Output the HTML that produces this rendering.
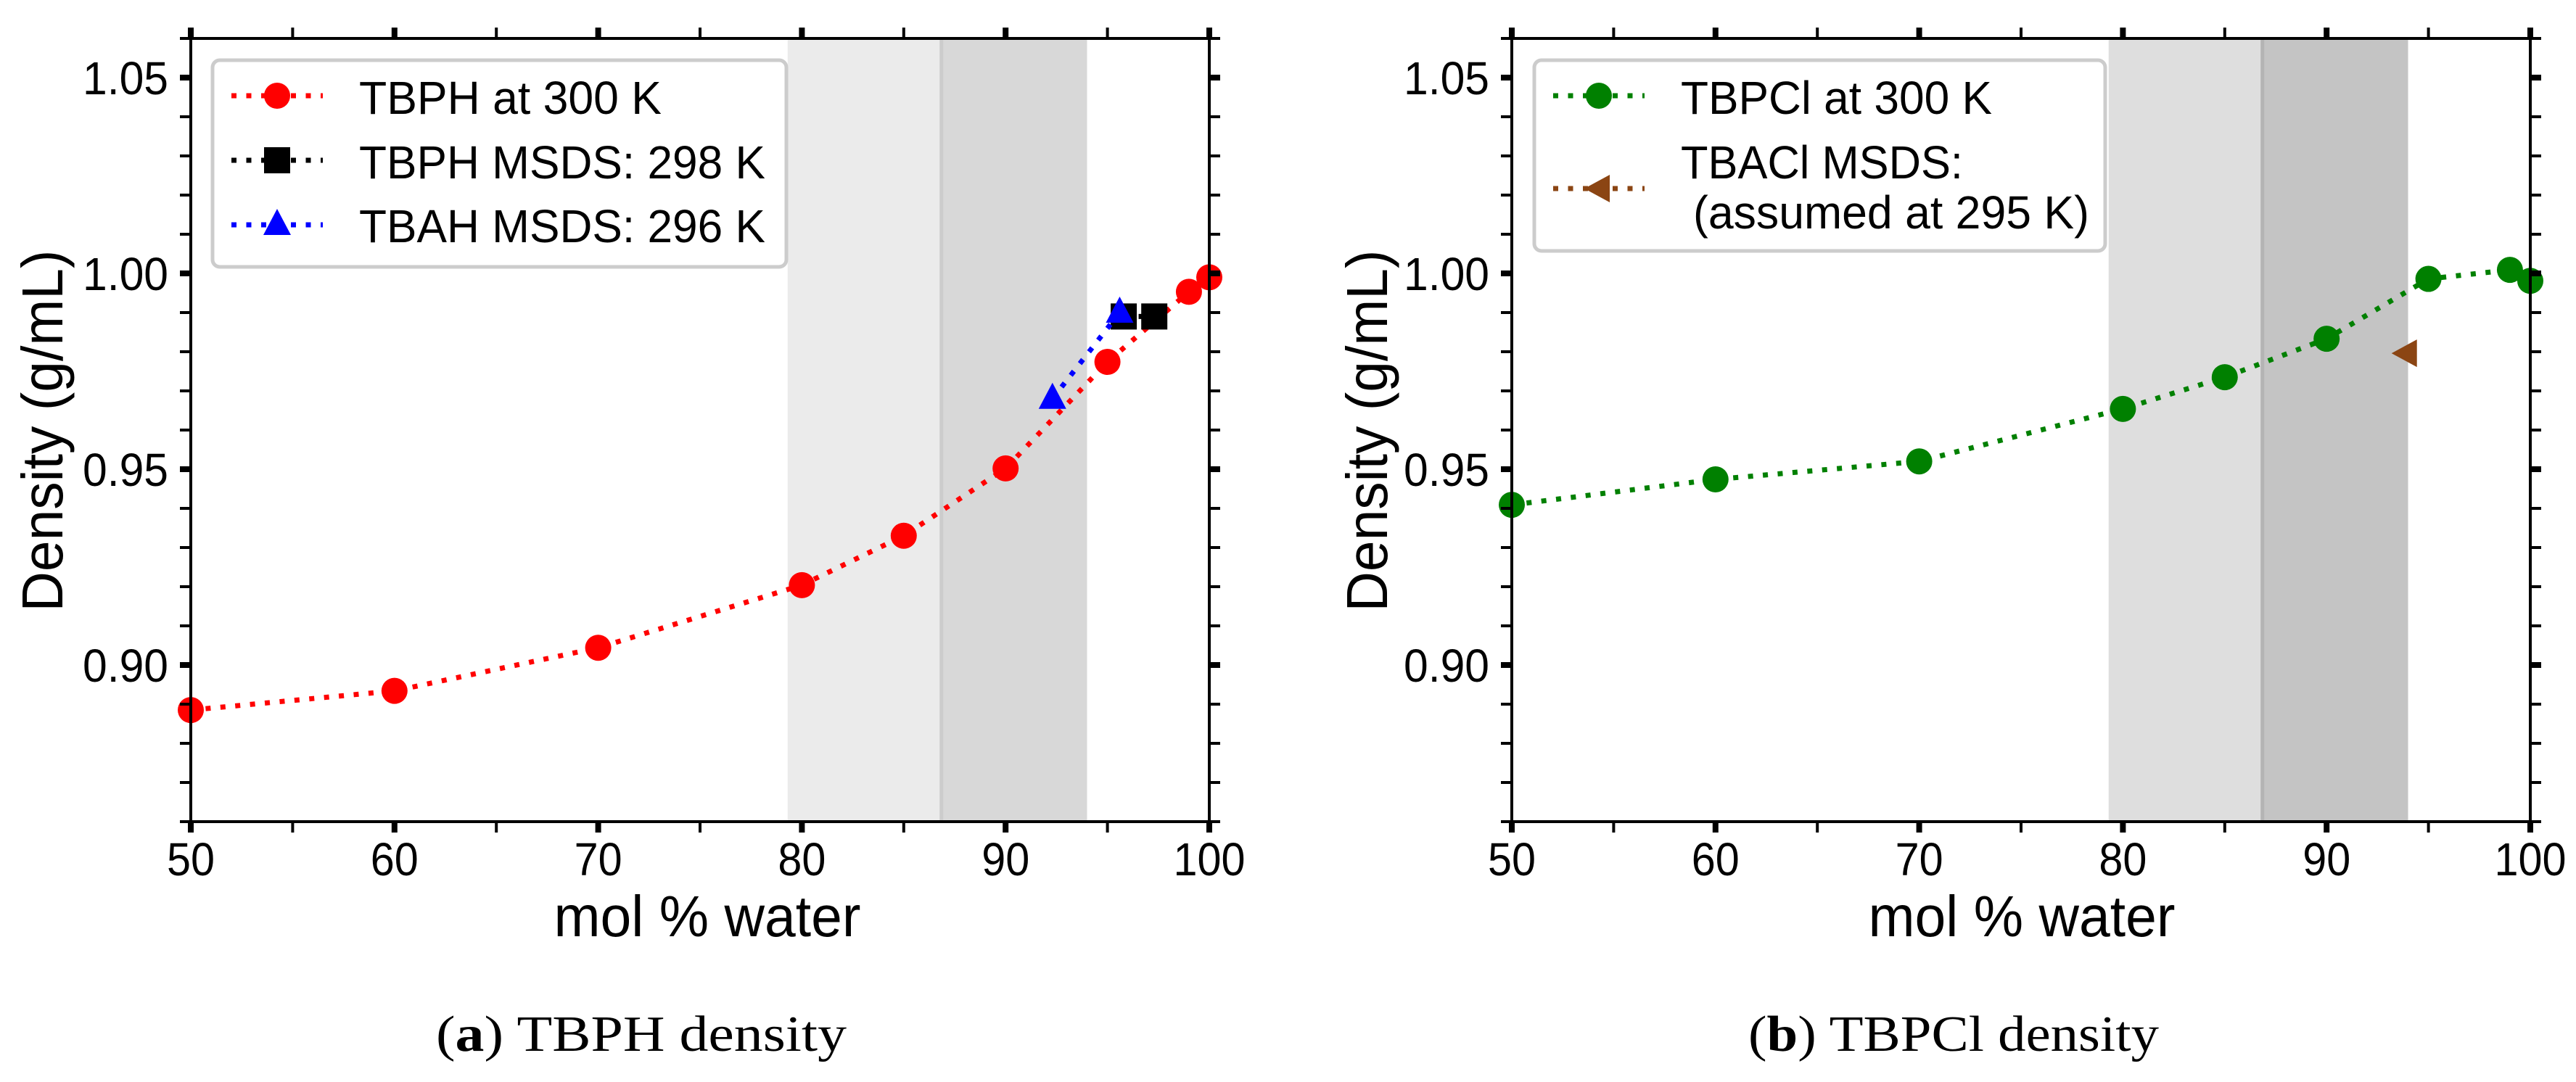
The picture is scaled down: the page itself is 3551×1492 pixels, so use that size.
<!DOCTYPE html>
<html><head><meta charset="utf-8"><style>
html,body{margin:0;padding:0;background:#fff;}
svg{display:block;}
text{font-family:"Liberation Sans",sans-serif;fill:#000;}
</style></head><body>
<svg id="fig" width="3551" height="1492" viewBox="0 0 3551 1492" xmlns="http://www.w3.org/2000/svg"></svg>
<script>
// ---- data ----
const xTicks = [50,60,70,80,90,100];
const yTicks = [0.90,0.95,1.00,1.05];
const yTickLabels = ["0.90","0.95","1.00","1.05"];
const tbphX = [50,60,70,80,85,90,95,99,100];
const tbphY = [0.8885,0.8934,0.9044,0.9204,0.933,0.9502,0.9774,0.9953,0.999];
const tbphMsdsX = [95.8,97.3];
const tbphMsdsY = [0.989,0.989];
const tbahMsdsX = [92.3,95.6];
const tbahMsdsY = [0.968,0.990];
const tbpclX = [50,60,70,80,85,90,95,99,100];
const tbpclY = [0.9409,0.9474,0.952,0.9654,0.9735,0.9833,0.9986,1.0009,0.9981];
const tbaclX = [93.9];
const tbaclY = [0.9796];
const bandEdges = [79.3,86.85,94.0];

const NS="http://www.w3.org/2000/svg";
const svg=document.getElementById('fig');
function el(tag,attrs,parent){const e=document.createElementNS(NS,tag);for(const k in attrs)e.setAttribute(k,attrs[k]);(parent||svg).appendChild(e);return e;}

function panel(p){
  const L=p.left,R=p.left+1404,T=53,B=1133;
  const sx=v=>L+(v-50)/50*(R-L);
  const sy=v=>B-(v-0.86)/0.2*(B-T);
  const g=el('g',{});
  
  
  const b1=el('rect',{x:sx(bandEdges[0]),y:T,width:sx(bandEdges[1])-sx(bandEdges[0]),height:B-T,fill:p.c1},g);
  
  
  const b2=el('rect',{x:sx(bandEdges[1]),y:T,width:sx(bandEdges[2])-sx(bandEdges[1]),height:B-T,fill:p.c2},g);
  
  
  el('line',{x1:sx(bandEdges[1]),x2:sx(bandEdges[1]),y1:T,y2:B,stroke:p.c3,'stroke-width':5},g);
  p.series.forEach(s=>{
    const pts=s.x.map((v,i)=>[sx(v),sy(s.y[i])]);
    const sg=el('g',{},g);
    
    
    if(pts.length>1){
      el('polyline',{points:pts.map(q=>q.join(',')).join(' '),fill:'none',stroke:s.color,'stroke-width':7,'stroke-dasharray':'7 13.5'},sg);
    }
    pts.forEach(q=>{const m=marker(s.marker,q[0],q[1],s.color,sg);
      
      });
  });
  el('rect',{x:L,y:T,width:R-L,height:B-T,fill:'none',stroke:'#000','stroke-width':4},g);
  for(let v=50;v<=100;v+=5){
    const major=v%10===0, x=sx(v), w=major?8:4;
    el('line',{x1:x,x2:x,y1:B,y2:B+15,stroke:'#000','stroke-width':w},g);
    el('line',{x1:x,x2:x,y1:T,y2:T-15,stroke:'#000','stroke-width':w},g);
  }
  xTicks.forEach(v=>{const t=el('text',{x:sx(v),y:1207,'font-size':64,'text-anchor':'middle',textLength:String(v).length*33,lengthAdjust:'spacingAndGlyphs'},g);t.textContent=String(v);
    
    });
  for(let k=86;k<=106;k++){
    const v=k/100, y=sy(v), major=k%5===0, w=major?8:4;
    if(y<T-1||y>B+1)continue;
    el('line',{x1:L,x2:L-15,y1:y,y2:y,stroke:'#000','stroke-width':w},g);
    el('line',{x1:R,x2:R+15,y1:y,y2:y,stroke:'#000','stroke-width':w},g);
  }
  yTicks.forEach((v,i)=>{const t=el('text',{x:L-31,y:sy(v)+23,'font-size':64,'text-anchor':'end',textLength:118,lengthAdjust:'spacingAndGlyphs'},g);t.textContent=yTickLabels[i];
    
    });
  const xl=el('text',{x:p.xlab,y:1291,'font-size':80,'text-anchor':'middle',textLength:423,lengthAdjust:'spacingAndGlyphs'},g);
  xl.textContent='mol % water';
  
  
  const yl=el('text',{x:0,y:0,'font-size':80,'text-anchor':'middle',textLength:499,lengthAdjust:'spacingAndGlyphs',transform:`translate(${p.ylabX},594) rotate(-90)`},g);
  yl.textContent='Density (g/mL)';
  
  
  const lg=el('g',{},g);
  
  
  el('rect',{x:p.leg.x,y:83,width:p.leg.w,height:p.leg.h,rx:10,fill:'#fff',stroke:'#cccccc','stroke-width':5},lg);
  p.leg.items.forEach(it=>{
    const e=el('g',{},lg);
    
    
    el('line',{x1:p.leg.x+26,x2:p.leg.x+152,y1:it.y,y2:it.y,stroke:it.color,'stroke-width':7,'stroke-dasharray':'7 13.5'},e);
    marker(it.marker,p.leg.x+89,it.y,it.color,e);
    it.lines.forEach(ln=>{const t=el('text',{x:ln.x,y:ln.y+23,'font-size':64,textLength:ln.w,lengthAdjust:'spacingAndGlyphs'},e);t.textContent=ln.t;});
  });
  const cap=el('text',{x:p.capX,y:1449,'font-size':70,'text-anchor':'middle',textLength:566,lengthAdjust:'spacingAndGlyphs',style:'font-family:"Liberation Serif",serif'},g);
  cap.innerHTML='(<tspan font-weight="bold">'+p.capL+'</tspan>) '+p.capT;
  
  
}
function marker(type,x,y,c,parent){
  if(type==='o')return el('circle',{cx:x,cy:y,r:18,fill:c},parent);
  if(type==='s')return el('rect',{x:x-18,y:y-18,width:36,height:36,fill:c},parent);
  if(type==='^')return el('polygon',{points:`${x},${y-22} ${x-19},${y+14} ${x+19},${y+14}`,fill:c},parent);
  if(type==='<')return el('polygon',{points:`${x-20},${y} ${x+15},${y-19} ${x+15},${y+19}`,fill:c},parent);
}
panel({name:'panel-a',left:263,c1:'#ebebeb',c2:'#d8d8d8',c3:'#cccccc',xlab:975,ylabX:86,capX:884,capL:'a',capT:'TBPH density',
  series:[
    {name:'tbph-300k-series',x:tbphX,y:tbphY,color:'#ff0000',marker:'o'},
    {name:'tbph-msds-series',x:tbphMsdsX,y:tbphMsdsY,color:'#000000',marker:'s'},
    {name:'tbah-msds-series',x:tbahMsdsX,y:tbahMsdsY,color:'#0000ff',marker:'^'}],
  leg:{x:293,w:791,h:285,items:[
    {y:132,color:'#ff0000',marker:'o',lines:[{x:495,y:134,w:417,t:'TBPH at 300 K'}]},
    {y:221,color:'#000000',marker:'s',lines:[{x:495,y:223,w:560,t:'TBPH MSDS: 298 K'}]},
    {y:310,color:'#0000ff',marker:'^',lines:[{x:495,y:311,w:560,t:'TBAH MSDS: 296 K'}]}]}
});
panel({name:'panel-b',left:2084,c1:'#dedede',c2:'#c4c4c4',c3:'#b4b4b4',xlab:2787,ylabX:1912,capX:2693,capL:'b',capT:'TBPCl density',
  series:[
    {name:'tbpcl-300k-series',x:tbpclX,y:tbpclY,color:'#008000',marker:'o'},
    {name:'tbacl-msds-series',x:tbaclX,y:tbaclY,color:'#8b4513',marker:'<'}],
  leg:{x:2115,w:787,h:263,items:[
    {y:132,color:'#008000',marker:'o',lines:[{x:2317,y:134,w:429,t:'TBPCl at 300 K'}]},
    {y:260,color:'#8b4513',marker:'<',lines:[{x:2317,y:223,w:389,t:'TBACl MSDS:'},{x:2334,y:292,w:546,t:'(assumed at 295 K)'}]}]}
});
</script>
</body></html>
